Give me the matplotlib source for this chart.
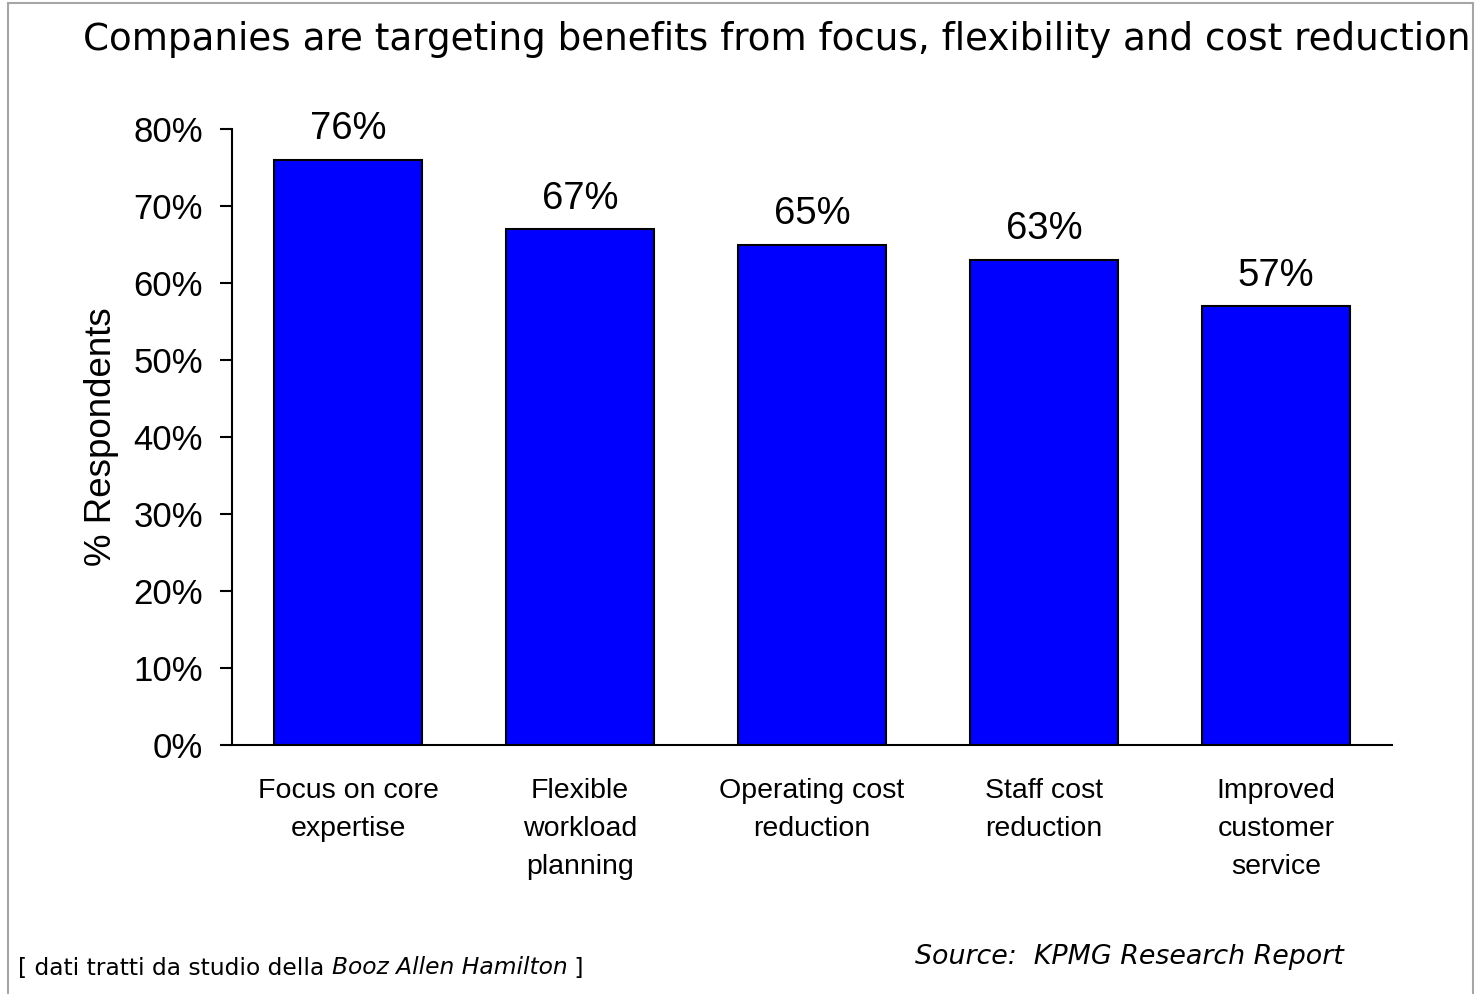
import matplotlib.pyplot as plt
from matplotlib.patches import Rectangle
from matplotlib.ticker import PercentFormatter

categories = ['Focus on core\nexpertise', 'Flexible\nworkload\nplanning',
              'Operating cost\nreduction', 'Staff cost\nreduction',
              'Improved\ncustomer\nservice']
values = [76, 67, 65, 63, 57]
yticks = [0, 10, 20, 30, 40, 50, 60, 70, 80]

fig = plt.figure(figsize=(14.78, 9.94), dpi=100)
ax = fig.add_axes([0.157, 0.2505, 0.7848, 0.6197])

# grey frame round the whole slide
fig.patches.append(Rectangle((8 / 1478, -0.01), 1465 / 1478, 1.01 - 3 / 994, transform=fig.transFigure,
                             fill=False, edgecolor='#a6a6a6', linewidth=1.5))

x = range(len(values))
bars = ax.bar(x, values, width=0.64, color='#0000ff', edgecolor='black', linewidth=1.5)
for b, v in zip(bars, values):
    ax.annotate('%d%%' % v, (b.get_x() + b.get_width() / 2, v), xytext=(0, 9),
                textcoords='offset points', ha='center', va='bottom',
                fontsize=27.5, family='Liberation Sans')

ax.set_xlim(-0.5, 4.5)
ax.set_ylim(0, 80)
ax.set_yticks(yticks)
ax.yaxis.set_major_formatter(PercentFormatter(decimals=0))
ax.set_xticks(list(x))
ax.set_xticklabels(categories, fontsize=20.5, family='Liberation Sans', linespacing=1.6)
ax.tick_params(axis='x', length=0, pad=24)
ax.tick_params(axis='y', length=9, width=1.5, labelsize=25, pad=12)
for t in ax.get_yticklabels():
    t.set_family('Liberation Sans')
ax.spines['top'].set_visible(False)
ax.spines['right'].set_visible(False)
ax.spines['left'].set_linewidth(1.5)
ax.spines['bottom'].set_linewidth(1.5)
ax.set_ylabel('% Respondents', fontsize=26.5, family='Liberation Sans', labelpad=10)

fig.text(83 / 1478, 1 - 40 / 994, 'Companies are targeting benefits from focus, flexibility and cost reduction',
         fontsize=26.8, family='DejaVu Sans', va='center', ha='left')

t1 = fig.text(18 / 1478, 1 - 968 / 994, '[ dati tratti da studio della ', fontsize=16.8,
              family='DejaVu Sans', va='center', ha='left')
a2 = plt.annotate('Booz Allen Hamilton', xy=(1, 0), xycoords=t1, va='bottom', ha='left',
                  fontsize=16.8, family='DejaVu Sans', style='italic')
plt.annotate(' ]', xy=(1, 0), xycoords=a2, va='bottom', ha='left', fontsize=16.8, family='DejaVu Sans')

fig.text(915 / 1478, 1 - 957 / 994, 'Source:  KPMG Research Report', fontsize=19.4,
         family='DejaVu Sans', style='italic', va='center', ha='left')

fig.savefig('out.png', dpi=100)
